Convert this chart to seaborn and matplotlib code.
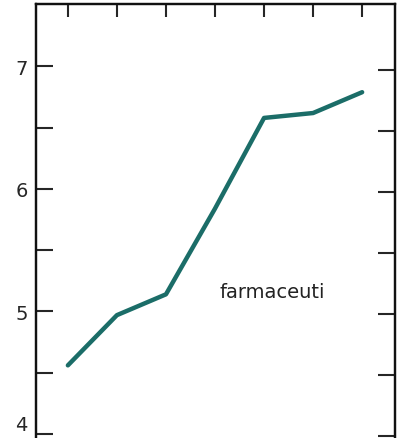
import matplotlib
matplotlib.use("Agg")
import matplotlib.pyplot as plt
import seaborn as sns
import pandas as pd

# values
periods = [0, 1, 2, 3, 4, 5, 6]
values = [4.56, 4.97, 5.14, 5.84, 6.58, 6.62, 6.79]
y_labels = ["4", "5", "6", "7"]
series_label = "farmaceuti"

df = pd.DataFrame({"period": periods, "value": values})

sns.set_style("ticks")
plt.rcParams['font.family'] = ['DejaVu Sans']

fig = plt.figure(figsize=(4.06, 4.39), dpi=100)
ax = fig.add_axes([36 / 406, 0, (395 - 36) / 406, 1 - 5 / 439])

sns.lineplot(data=df, x="period", y="value", ax=ax, color="#1b6d68",
             linewidth=3.2, solid_capstyle="round")

ax.set_xlim(-0.65, 6.67)
ax.set_ylim(3.967, 7.51)
ax.set_xlabel("")
ax.set_ylabel("")

# left axis: integer labels, inward ticks, half-step minor ticks
ax.set_yticks([4, 5, 6, 7])
ax.set_yticklabels(y_labels, fontsize=14)
ax.get_yticklabels()[0].set_va("bottom")
ax.set_yticks([4.5, 5.5, 6.5], minor=True)
ax.tick_params(axis="y", which="both", direction="in", length=12, width=1.5,
               pad=6, right=False)

# top axis: unlabeled inward ticks at each period
ax.xaxis.tick_top()
ax.set_xticks(periods)
ax.set_xticklabels([])
ax.tick_params(axis="x", direction="in", length=9, width=1.5)

# right axis: independent unlabeled scale
ax2 = ax.twinx()
ax2.set_ylim(-0.033, 7.08)
ax2.set_yticks([0, 1, 2, 3, 4, 5, 6])
ax2.set_yticklabels([])
ax2.tick_params(axis="y", direction="in", length=12, width=1.5)

for a in (ax, ax2):
    for side in ("left", "right", "top"):
        a.spines[side].set_linewidth(1.6)
        a.spines[side].set_color("#111111")
    a.spines["bottom"].set_visible(False)

ax.text(4.16, 5.16, series_label, fontsize=14, ha="center", va="center",
        color="#222222")

fig.savefig("out.png", dpi=100)
